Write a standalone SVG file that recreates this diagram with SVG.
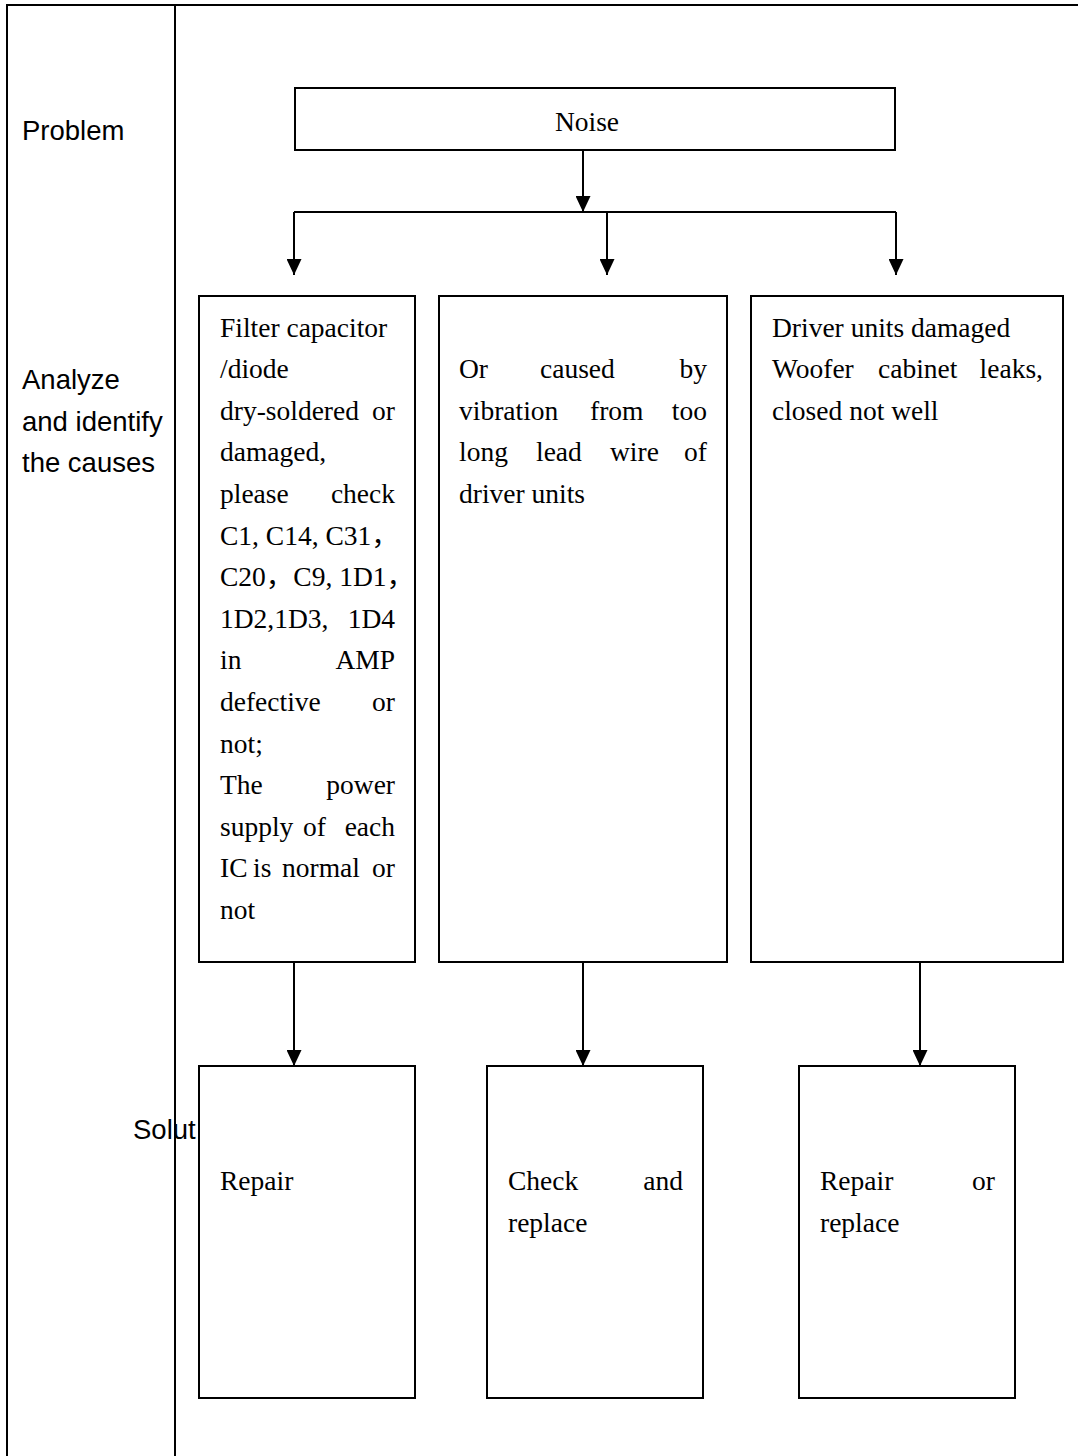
<svg xmlns="http://www.w3.org/2000/svg" width="1078" height="1456" viewBox="0 0 1078 1456">
<style>
.frame{stroke:#000;stroke-width:2;fill:none}
.box{fill:#fff;stroke:#000;stroke-width:2}
.conn{stroke:#000;stroke-width:2;fill:none}
.lab{font-family:"Liberation Sans",Arial,sans-serif;font-size:27.5px;fill:#000}
.t{font-family:"Liberation Serif","Times New Roman","Noto Sans CJK SC",serif;font-size:27.5px;fill:#000}
.e{text-anchor:end}
</style>
<defs>
<marker id="ah" markerUnits="userSpaceOnUse" markerWidth="16" markerHeight="15" refX="16" refY="7.5" orient="auto">
<path d="M0,0 L16,7.5 L0,15 z" fill="#000"/>
</marker>
</defs>
<rect width="1078" height="1456" fill="#fff"/>
<g id="frame">
<path class="frame" d="M7,1456 V5 H1078 M175,5 V1456"/>
<text class="lab" x="22" y="140">Problem</text>
<text class="lab" x="22" y="389">Analyze</text>
<text class="lab" x="22" y="430.5">and identify</text>
<text class="lab" x="22" y="471.5">the causes</text>
</g>
<g id="connectors">
<path class="conn" d="M583,150 V212" marker-end="url(#ah)"/>
<path class="conn" d="M294,212 H896"/>
<path class="conn" d="M294,212 V275" marker-end="url(#ah)"/>
<path class="conn" d="M607,212 V275" marker-end="url(#ah)"/>
<path class="conn" d="M896,212 V275" marker-end="url(#ah)"/>
<path class="conn" d="M294,962 V1066" marker-end="url(#ah)"/>
<path class="conn" d="M583,962 V1066" marker-end="url(#ah)"/>
<path class="conn" d="M920,962 V1066" marker-end="url(#ah)"/>
</g>
<g id="noise">
<rect class="box" x="295" y="88" width="600" height="62"/>
<text class="t" x="587" y="131" text-anchor="middle">Noise</text>
</g>
<g id="cause1">
<rect class="box" x="199" y="296" width="216" height="666"/>
<text class="t" x="220" y="336.5">Filter capacitor</text>
<text class="t" x="220" y="378">/diode</text>
<text class="t" x="220" y="419.7">dry-soldered</text><text class="t e" x="395" y="419.7">or</text>
<text class="t" x="220" y="461.3">damaged,</text>
<text class="t" x="220" y="502.9">please</text><text class="t e" x="395" y="502.9">check</text>
<text class="t" x="220" y="544.5">C1, C14, C31，</text>
<text class="t" x="220" y="586">C20，C9, 1D1，</text>
<text class="t" x="220" y="627.7">1D2,1D3,</text><text class="t e" x="395" y="627.7">1D4</text>
<text class="t" x="220" y="669.3">in</text><text class="t e" x="395" y="669.3">AMP</text>
<text class="t" x="220" y="710.9">defective</text><text class="t e" x="395" y="710.9">or</text>
<text class="t" x="220" y="752.5">not;</text>
<text class="t" x="220" y="794">The</text><text class="t e" x="395" y="794">power</text>
<text class="t" x="220" y="835.7">supply</text><text class="t" x="303" y="835.7">of</text><text class="t e" x="395" y="835.7">each</text>
<text class="t" x="220" y="877.3">IC</text><text class="t" x="253" y="877.3">is</text><text class="t" x="282" y="877.3">normal</text><text class="t e" x="395" y="877.3">or</text>
<text class="t" x="220" y="918.9">not</text>
</g>
<g id="cause2">
<rect class="box" x="439" y="296" width="288" height="666"/>
<text class="t" x="459" y="378">Or</text><text class="t" x="540" y="378">caused</text><text class="t e" x="707" y="378">by</text>
<text class="t" x="459" y="419.7">vibration</text><text class="t" x="590" y="419.7">from</text><text class="t e" x="707" y="419.7">too</text>
<text class="t" x="459" y="461.3">long</text><text class="t" x="536" y="461.3">lead</text><text class="t" x="610" y="461.3">wire</text><text class="t e" x="707" y="461.3">of</text>
<text class="t" x="459" y="502.9">driver units</text>
</g>
<g id="cause3">
<rect class="box" x="751" y="296" width="312" height="666"/>
<text class="t" x="772" y="336.5">Driver units damaged</text>
<text class="t" x="772" y="378">Woofer</text><text class="t" x="878" y="378">cabinet</text><text class="t e" x="1043" y="378">leaks,</text>
<text class="t" x="772" y="419.7">closed not well</text>
</g>
<g id="solution1">
<rect class="box" x="199" y="1066" width="216" height="332"/>
<text class="t" x="220" y="1190">Repair</text>
</g>
<g id="solution2">
<rect class="box" x="487" y="1066" width="216" height="332"/>
<text class="t" x="508" y="1190">Check</text><text class="t e" x="683" y="1190">and</text>
<text class="t" x="508" y="1232">replace</text>
</g>
<g id="solution3">
<rect class="box" x="799" y="1066" width="216" height="332"/>
<text class="t" x="820" y="1190">Repair</text><text class="t e" x="995" y="1190">or</text>
<text class="t" x="820" y="1232">replace</text>
</g>
<text class="lab" x="133" y="1139">Solut</text>
</svg>
